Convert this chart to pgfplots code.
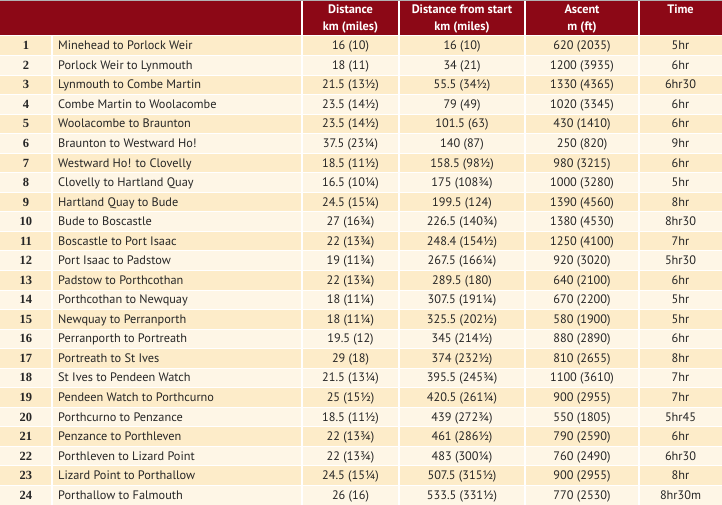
\documentclass[border=0pt]{standalone}
\usepackage{fontspec}
\setmainfont{PT Sans}
\newfontfamily\numfont{Liberation Serif}
\usepackage{pgfplots}
\usepackage{pgfplotstable}
\pgfplotsset{compat=1.18}
\definecolor{hdr}{RGB}{140,8,22}
\definecolor{rowA}{RGB}{253,236,201}
\definecolor{rowB}{RGB}{254,246,230}
\definecolor{txt}{RGB}{38,38,38}

\pgfplotstableread[col sep=comma]{
n,route,dist,start,ascent,time
1,Minehead to Porlock Weir,16 (10),16 (10),620 (2035),5hr
2,Porlock Weir to Lynmouth,18 (11),34 (21),1200 (3935),6hr
3,Lynmouth to Combe Martin,21.5 (13½),55.5 (34½),1330 (4365),6hr30
4,Combe Martin to Woolacombe,23.5 (14½),79 (49),1020 (3345),6hr
5,Woolacombe to Braunton,23.5 (14½),101.5 (63),430 (1410),6hr
6,Braunton to Westward Ho!,37.5 (23¼),140 (87),250 (820),9hr
7,Westward Ho! to Clovelly,18.5 (11½),158.5 (98½),980 (3215),6hr
8,Clovelly to Hartland Quay,16.5 (10¼),175 (108¾),1000 (3280),5hr
9,Hartland Quay to Bude,24.5 (15¼),199.5 (124),1390 (4560),8hr
10,Bude to Boscastle,27 (16¾),226.5 (140¾),1380 (4530),8hr30
11,Boscastle to Port Isaac,22 (13¾),248.4 (154½),1250 (4100),7hr
12,Port Isaac to Padstow,19 (11¾),267.5 (166¼),920 (3020),5hr30
13,Padstow to Porthcothan,22 (13¾),289.5 (180),640 (2100),6hr
14,Porthcothan to Newquay,18 (11¼),307.5 (191¼),670 (2200),5hr
15,Newquay to Perranporth,18 (11¼),325.5 (202½),580 (1900),5hr
16,Perranporth to Portreath,19.5 (12),345 (214½),880 (2890),6hr
17,Portreath to St Ives,29 (18),374 (232½),810 (2655),8hr
18,St Ives to Pendeen Watch,21.5 (13¼),395.5 (245¾),1100 (3610),7hr
19,Pendeen Watch to Porthcurno,25 (15½),420.5 (261¼),900 (2955),7hr
20,Porthcurno to Penzance,18.5 (11½),439 (272¾),550 (1805),5hr45
21,Penzance to Porthleven,22 (13¾),461 (286½),790 (2590),6hr
22,Porthleven to Lizard Point,22 (13¾),483 (300¼),760 (2490),6hr30
23,Lizard Point to Porthallow,24.5 (15¼),507.5 (315½),900 (2955),8hr
24,Porthallow to Falmouth,26 (16),533.5 (331½),770 (2530),8hr30m
}\routes

\pgfplotsset{
  lbl/.style={draw=none, mark=*, mark size=0pt, mark options={draw=none,fill=none},
    point meta=explicit symbolic, nodes near coords,
    nodes near coords style={anchor=#1, inner sep=0pt, text height=9pt, text depth=3pt,
      text=txt, font=\fontsize{12.3}{14}\selectfont}},
  hlbl/.style={draw=none, mark=*, mark size=0pt, mark options={draw=none,fill=none},
    point meta=explicit symbolic, nodes near coords,
    nodes near coords style={anchor=center, inner sep=0pt, text height=9pt, text depth=3pt,
      text=white, font=\fontsize{12.3}{14}\selectfont\bfseries}},
}

\begin{document}
\begin{tikzpicture}
\begin{axis}[
  width=722pt, height=505pt, scale only axis,
  xmin=0, xmax=722, ymin=0, ymax=505, y dir=reverse,
  axis lines=none, clip=true,
]
% row bands
\addplot[xbar, bar shift=0pt, bar width=19.54, fill=rowB, draw=none]
  table[x expr=722, y expr={36+(\thisrow{n}-0.5)*19.54}] {\routes};
\addplot[xbar, bar shift=0pt, bar width=19.54, fill=rowA, draw=none] coordinates {
  (722,45.77) (722,84.85) (722,123.93) (722,163.01) (722,202.09) (722,241.17)
  (722,280.25) (722,319.33) (722,358.41) (722,397.49) (722,436.57) (722,475.65)};
% header band
\addplot[xbar, bar shift=0pt, bar width=36, fill=hdr, draw=none] coordinates {(722,18)};
% white horizontal separators
\addplot[xcomb, white, line width=1pt] coordinates {
  (722,36) (722,55.54) (722,75.08) (722,94.62) (722,114.16) (722,133.70) (722,153.24)
  (722,172.78) (722,192.32) (722,211.86) (722,231.40) (722,250.94) (722,270.48)
  (722,290.02) (722,309.56) (722,329.10) (722,348.64) (722,368.18) (722,387.72)
  (722,407.26) (722,426.80) (722,446.34) (722,465.88) (722,485.42)};
% white vertical separators
\addplot[ycomb, white, line width=1.5pt] coordinates {(302,505) (399,505) (525,505) (639,505)};
\addplot[white, line width=1.5pt] coordinates {(52,36) (52,505)};
% top grey rule
\addplot[gray!60, line width=1pt] coordinates {(0,0.5) (722,0.5)};
% header text
\addplot[hlbl] coordinates {
  (350.5,11) [Distance] (462,11) [Distance from start] (582,11) [Ascent] (680.5,11) [Time]
  (350.5,27.5) [km (miles)] (462,27.5) [km (miles)] (582,27.5) [m (ft)]};
% body text
\addplot[lbl=center, nodes near coords style={font=\fontsize{12.5}{14}\selectfont\numfont\bfseries}]
  table[x expr=26, y expr={37+(\thisrow{n}-0.5)*19.54}, meta=n] {\routes};
\addplot[lbl=west] table[x expr=58, y expr={37+(\thisrow{n}-0.5)*19.54}, meta=route] {\routes};
\addplot[lbl=center] table[x expr=350.5, y expr={37+(\thisrow{n}-0.5)*19.54}, meta=dist] {\routes};
\addplot[lbl=center] table[x expr=462, y expr={37+(\thisrow{n}-0.5)*19.54}, meta=start] {\routes};
\addplot[lbl=center] table[x expr=582, y expr={37+(\thisrow{n}-0.5)*19.54}, meta=ascent] {\routes};
\addplot[lbl=center] table[x expr=680.5, y expr={37+(\thisrow{n}-0.5)*19.54}, meta=time] {\routes};
\end{axis}
\end{tikzpicture}
\end{document}
